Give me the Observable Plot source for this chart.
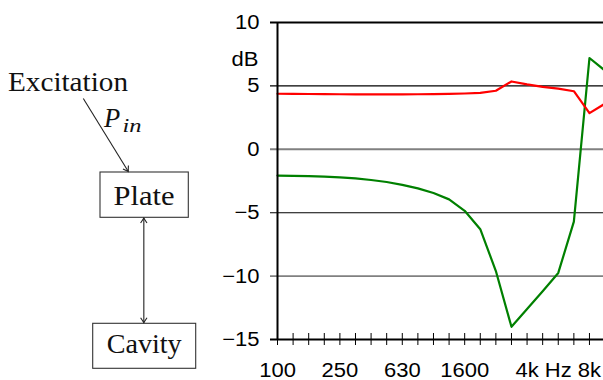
<!DOCTYPE html>
<html>
<head>
<meta charset="utf-8">
<script src="https://cdn.jsdelivr.net/npm/d3@7"></script>
<script src="https://cdn.jsdelivr.net/npm/@observablehq/plot@0.6"></script>
<style>
  html, body { margin: 0; padding: 0; background: #fff; overflow: hidden; }
</style>
</head>
<body>
<script>
// 1/3-octave bands (index = position on the x axis)
const bands = ["100","125","160","200","250","315","400","500","630","800","1000","1250","1600","2000","2500","3150","4000","5000","6300","8000","10000","12500"];
// red series (dB)
const redLevel = [4.38,4.37,4.36,4.35,4.34,4.33,4.33,4.33,4.33,4.34,4.35,4.37,4.40,4.45,4.62,5.35,5.12,4.93,4.78,4.58,2.85,3.6];
// green series (dB)
const greenLevel = [-2.07,-2.09,-2.12,-2.16,-2.21,-2.30,-2.42,-2.58,-2.80,-3.08,-3.45,-3.95,-4.85,-6.3,-9.6,-14.0,-12.6,-11.2,-9.75,-5.7,7.2,6.2];
// y ticks
const yTicks = [10, 5, 0, -5, -10, -15];
// x tick labels and the bands they sit on
const xTickBands = ["100","250","630","1600","4000","6300","10000"];
const xTickLabels = ["100","250","630","1600","4k","Hz","8k"];
const tickBands = bands.slice(0, 21);

const idx = bands.map((_, i) => i);
const xTickIdx = xTickBands.map(b => bands.indexOf(b));

const chart = Plot.plot({
  width: 603,
  height: 380,
  marginLeft: 277,
  marginRight: 0,
  marginTop: 22,
  marginBottom: 41,
  style: {fontFamily: "'Liberation Sans', Arial, sans-serif", fontSize: "20px", background: "white", overflow: "hidden", color: "#000"},
  x: {type: "linear", domain: [0, 20.9]},
  y: {domain: [-15, 10]},
  marks: [
    Plot.ruleY(yTicks, {
      y: d => d,
      stroke: d => (d === 0 || d === -10) ? "#808080" : "#000",
      strokeWidth: d => (d === 5 || d === -5) ? 1.1 : 1.9,
      insetLeft: -7
    }),
    Plot.ruleX(tickBands.map(b => bands.indexOf(b)), {
      x: d => d, y1: -15, y2: -15, insetTop: -6, insetBottom: -6,
      stroke: "#000", strokeWidth: 1
    }),
    Plot.line(idx, {x: d => d, y: d => greenLevel[d], stroke: "#008000", strokeWidth: 2.2}),
    Plot.line(idx, {x: d => d, y: d => redLevel[d], stroke: "#ff0000", strokeWidth: 2.2}),
    Plot.ruleX([0], {x: d => d, y1: -15, y2: 10, stroke: "#000", strokeWidth: 2}),
    Plot.axisY({ticks: yTicks, tickSize: 0, tickPadding: 18, fontSize: 20, label: null}),
    Plot.axisX({ticks: xTickIdx, tickFormat: d => xTickLabels[xTickIdx.indexOf(d)], tickSize: 0, tickPadding: 23, fontSize: 20, label: null}),
    Plot.text(["dB"], {frameAnchor: "top-left", dx: -19, dy: 29, textAnchor: "end", fontSize: 20})
  ]
});

document.body.append(chart);

// set the sans labels' size explicitly and widen them to the reference proportions
chart.querySelectorAll('g[aria-label="y-axis tick label"] text, g[aria-label="x-axis tick label"] text, g[aria-label="text"] text').forEach(t => {
  t.style.fontSize = "20px";
  t.style.fontFamily = "'Liberation Sans', Arial, sans-serif";
  const L = t.getComputedTextLength();
  t.setAttribute("textLength", (L * 1.1).toFixed(2));
  t.setAttribute("lengthAdjust", "spacingAndGlyphs");
});

// ---- schematic on the left (non-data annotation) ----
const svg = d3.select(chart);
const defs = svg.append("defs");
defs.append("marker")
  .attr("id", "tip")
  .attr("viewBox", "-6 -4 7 8")
  .attr("markerWidth", 7).attr("markerHeight", 8)
  .attr("markerUnits", "userSpaceOnUse")
  .attr("refX", 0).attr("refY", 0)
  .attr("orient", "auto-start-reverse")
  .append("path")
  .attr("d", "M-5,-3.2 Q-1.5,-0.8 0,0 Q-1.5,0.8 -5,3.2")
  .attr("fill", "none").attr("stroke", "#222").attr("stroke-width", 1.1);

const g = svg.append("g")
  .attr("font-family", "'Liberation Serif', 'Times New Roman', serif")
  .attr("fill", "#111")
  .attr("text-anchor", "start");

g.append("text").attr("x", 8).attr("y", 90.5).attr("font-size", 26.5).attr("text-anchor", "start")
  .attr("textLength", 120).attr("lengthAdjust", "spacingAndGlyphs").text("Excitation");

g.append("line").attr("x1", 83.3).attr("y1", 98.5).attr("x2", 128.3).attr("y2", 171.5)
  .attr("stroke", "#222").attr("stroke-width", 1.1).attr("marker-end", "url(#tip)");

g.append("text").attr("x", 104).attr("y", 126.5).attr("font-size", 26.5).attr("font-style", "italic")
  .attr("text-anchor", "start").text("P");
g.append("text").attr("x", 122.5).attr("y", 132).attr("font-size", 18.5).attr("font-style", "italic")
  .attr("text-anchor", "start")
  .attr("textLength", 19).attr("lengthAdjust", "spacingAndGlyphs").text("in");

g.append("rect").attr("x", 100).attr("y", 172).attr("width", 88.3).attr("height", 45.3)
  .attr("fill", "none").attr("stroke", "#333").attr("stroke-width", 1.1);
g.append("text").attr("x", 144).attr("y", 204.5).attr("font-size", 26.5).attr("text-anchor", "middle")
  .attr("textLength", 61).attr("lengthAdjust", "spacingAndGlyphs").text("Plate");

g.append("line").attr("x1", 143.8).attr("y1", 218).attr("x2", 143.8).attr("y2", 322.8)
  .attr("stroke", "#444").attr("stroke-width", 1.3)
  .attr("marker-start", "url(#tip)").attr("marker-end", "url(#tip)");

g.append("rect").attr("x", 92.7).attr("y", 323.3).attr("width", 103).attr("height", 45)
  .attr("fill", "none").attr("stroke", "#333").attr("stroke-width", 1.1);
g.append("text").attr("x", 144.2).attr("y", 353).attr("font-size", 26.5).attr("text-anchor", "middle")
  .attr("textLength", 75).attr("lengthAdjust", "spacingAndGlyphs").text("Cavity");
</script>
</body>
</html>
